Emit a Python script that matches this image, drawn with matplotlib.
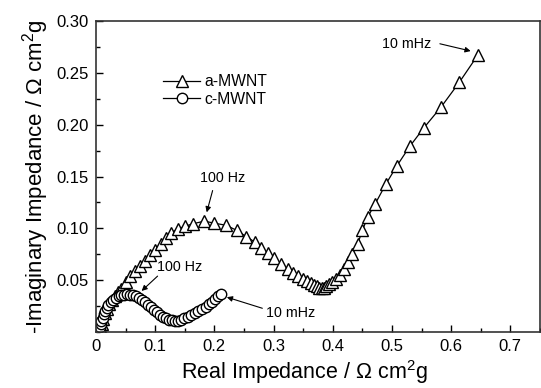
import matplotlib
matplotlib.use("Agg")
import matplotlib.pyplot as plt
from matplotlib.ticker import MultipleLocator

plt.rcParams['font.family'] = ['Liberation Sans', 'DejaVu Sans']
plt.rcParams['mathtext.fontset'] = 'custom'
plt.rcParams['mathtext.rm'] = 'Liberation Sans'
plt.rcParams['mathtext.it'] = 'Liberation Sans'

# a-MWNT (triangles)
a_real = [0.008, 0.010, 0.012, 0.015, 0.018, 0.022, 0.027, 0.032, 0.037,
          0.043, 0.050, 0.057, 0.066, 0.074, 0.083, 0.091, 0.099, 0.109,
          0.118, 0.127, 0.139, 0.150, 0.164, 0.183, 0.200, 0.220, 0.238,
          0.254, 0.268, 0.279, 0.290, 0.301, 0.313, 0.324, 0.333, 0.342,
          0.350, 0.357, 0.363, 0.368, 0.373, 0.377, 0.381, 0.385, 0.389,
          0.393, 0.398, 0.405, 0.412, 0.419, 0.425, 0.433, 0.442, 0.450,
          0.459, 0.472, 0.490, 0.508, 0.530, 0.554, 0.583, 0.614, 0.645]
a_imag = [0.003, 0.008, 0.013, 0.018, 0.022, 0.027, 0.031, 0.035, 0.039,
          0.042, 0.048, 0.054, 0.059, 0.064, 0.069, 0.074, 0.0795, 0.085,
          0.091, 0.096, 0.0995, 0.102, 0.1045, 0.107, 0.105, 0.103, 0.098,
          0.092, 0.087, 0.081, 0.076, 0.071, 0.066, 0.061, 0.057, 0.054,
          0.051, 0.049, 0.047, 0.0455, 0.044, 0.043, 0.0425, 0.043, 0.044,
          0.046, 0.048, 0.051, 0.0555, 0.061, 0.068, 0.075, 0.085, 0.098,
          0.111, 0.124, 0.143, 0.160, 0.179, 0.197, 0.217, 0.241, 0.267]

# c-MWNT (circles)
c_real = [0.006, 0.007, 0.008, 0.009, 0.011, 0.013, 0.015, 0.018, 0.021,
          0.025, 0.029, 0.033, 0.038, 0.043, 0.048, 0.053, 0.058, 0.063,
          0.068, 0.073, 0.078, 0.083, 0.088, 0.093, 0.098, 0.103, 0.108,
          0.113, 0.118, 0.123, 0.128, 0.133, 0.138, 0.143, 0.149, 0.155,
          0.161, 0.167, 0.173, 0.179, 0.185, 0.191, 0.196, 0.201, 0.206, 0.211]
c_imag = [0.002, 0.005, 0.008, 0.011, 0.014, 0.017, 0.020, 0.023, 0.026,
          0.029, 0.031, 0.033, 0.0345, 0.0355, 0.036, 0.0365, 0.0362, 0.0355,
          0.0345, 0.033, 0.031, 0.0288, 0.0265, 0.024, 0.0215, 0.019, 0.0168,
          0.0148, 0.0132, 0.012, 0.0113, 0.011, 0.0112, 0.012, 0.0132, 0.0146,
          0.0162, 0.018, 0.020, 0.0222, 0.0245, 0.027, 0.0295, 0.032, 0.0345, 0.037]

fig = plt.figure(figsize=(5.41, 3.88), dpi=100)
ax = fig.add_axes([0.1775, 0.144, 0.8205, 0.802])

ax.plot(a_real, a_imag, '-', color='black', lw=0.9, marker='^', markersize=9,
        markerfacecolor='white', markeredgecolor='black', markeredgewidth=1.0,
        label='a-MWNT')
ax.plot(c_real, c_imag, '-', color='black', lw=0.9, marker='o', markersize=7.5,
        markerfacecolor='white', markeredgecolor='black', markeredgewidth=1.0,
        label='c-MWNT')

ax.set_xlim(0, 0.75)
ax.set_ylim(0, 0.30)
ax.set_xticks([0, 0.1, 0.2, 0.3, 0.4, 0.5, 0.6, 0.7])
ax.set_xticklabels(['0', '0.1', '0.2', '0.3', '0.4', '0.5', '0.6', '0.7'])
ax.set_yticks([0.05, 0.10, 0.15, 0.20, 0.25, 0.30])
ax.set_yticklabels(['0.05', '0.10', '0.15', '0.20', '0.25', '0.30'])
ax.xaxis.set_minor_locator(MultipleLocator(0.05))
ax.yaxis.set_minor_locator(MultipleLocator(0.025))
ax.tick_params(which='both', direction='in', top=False, right=False,
               labelsize=12, width=1.0)
ax.tick_params(which='major', length=5, pad=5)
ax.tick_params(which='minor', length=3)
for s in ax.spines.values():
    s.set_linewidth(1.2)
    s.set_color('#333333')

ax.set_xlabel('Real Impedance / \u03a9 cm$^2$g', fontsize=15.5)
ax.xaxis.set_label_coords(0.47, -0.084)
ax.set_ylabel('-Imaginary Impedance / \u03a9 cm$^2$g', fontsize=16, labelpad=4)

arrow = dict(arrowstyle='-|>', color='black', lw=0.8, mutation_scale=8,
             shrinkA=0, shrinkB=0)
ax.annotate('100 Hz', xy=(0.187, 0.1155), xytext=(0.214, 0.149),
            ha='center', va='center', fontsize=10.3)
ax.annotate('', xy=(0.187, 0.1155), xytext=(0.197, 0.1365), arrowprops=arrow)
ax.annotate('100 Hz', xy=(0.141, 0.0625), xytext=(0.141, 0.0625),
            ha='center', va='center', fontsize=10.3)
ax.annotate('', xy=(0.077, 0.0397), xytext=(0.104, 0.054), arrowprops=arrow)
ax.annotate('10 mHz', xy=(0.328, 0.018), xytext=(0.328, 0.018),
            ha='center', va='center', fontsize=10.3)
ax.annotate('', xy=(0.221, 0.0337), xytext=(0.281, 0.023), arrowprops=arrow)
ax.annotate('10 mHz', xy=(0.524, 0.278), xytext=(0.524, 0.278),
            ha='center', va='center', fontsize=10.3)
ax.annotate('', xy=(0.633, 0.271), xytext=(0.581, 0.278), arrowprops=arrow)

ax.legend(loc='upper left', bbox_to_anchor=(0.151, 0.828), frameon=False,
          fontsize=11.3, handlelength=2.36, handletextpad=0.3, labelspacing=0.15,
          borderaxespad=0, borderpad=0)

fig.savefig('out.png', dpi=100)
